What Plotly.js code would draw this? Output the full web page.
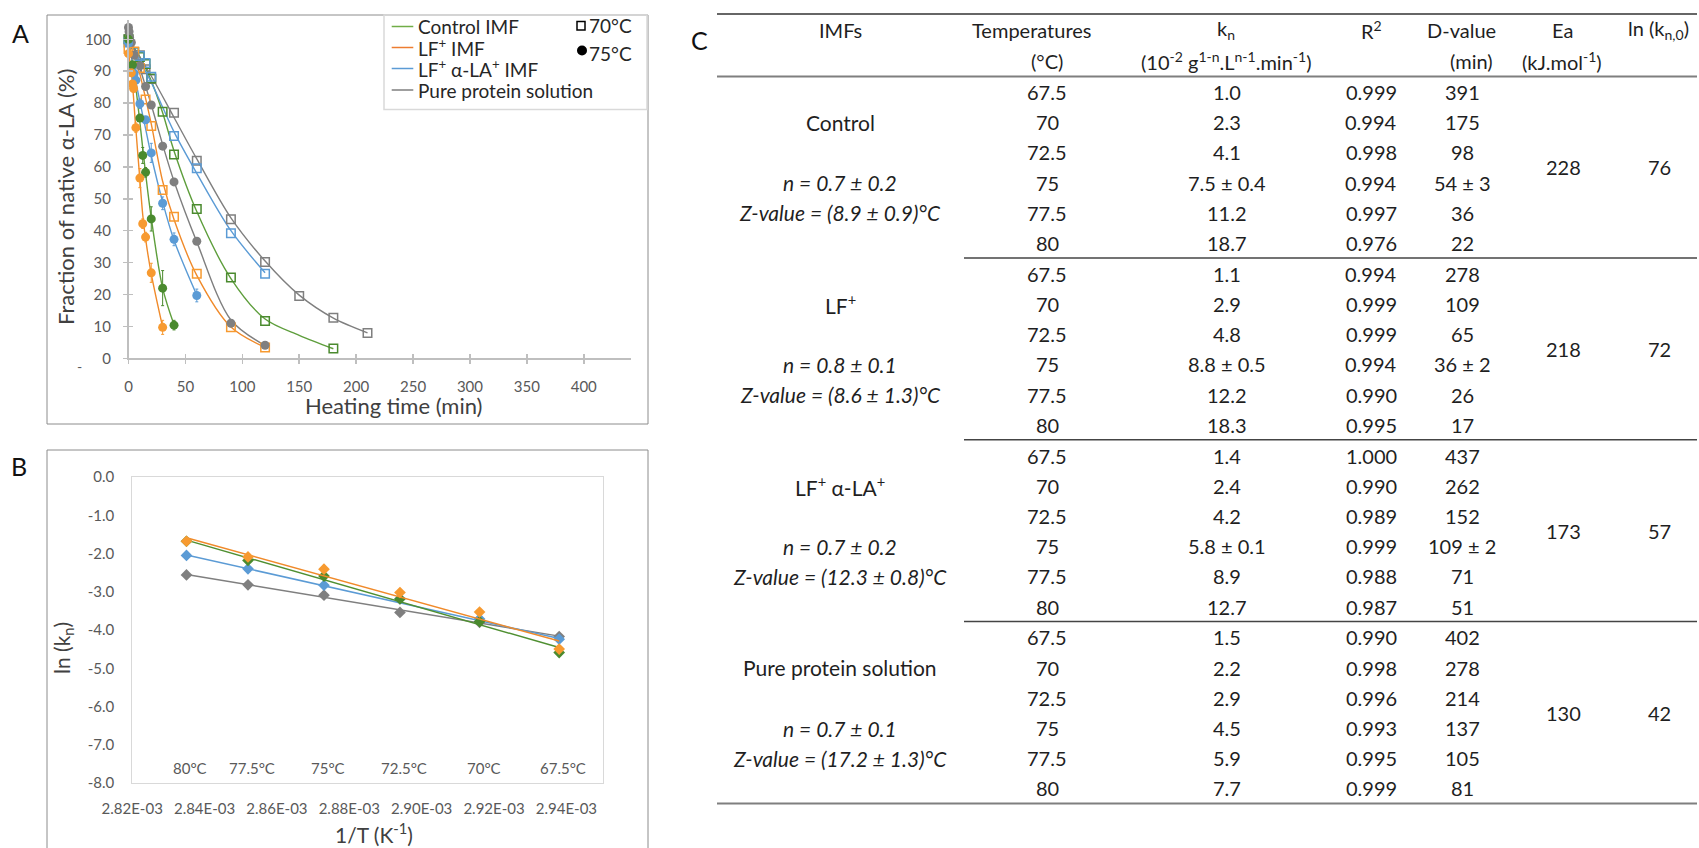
<!DOCTYPE html>
<html><head><meta charset="utf-8">
<script src="https://cdn.plot.ly/plotly-3.0.1.min.js"></script>
<style>html,body{margin:0;padding:0;background:#fff;}#chart{width:1699px;height:848px;}</style>
</head><body><div id="chart"></div>
<script>
// ---------- Panel A data (heating time in min, fraction of native α-LA in %) ----------
const green70T = [0,5,10,15,20,30,40,60,90,120,180];
const green70V = [100,96,94.5,92.3,87.7,77.3,63.9,46.8,25.3,11.7,3.1];
const orange70T = [0,5,10,15,20,30,40,60,90,120];
const orange70V = [97,96.2,91,81.1,72.8,52.8,44.4,26.5,9.7,3.4];
const blue70T = [0,5,10,15,20,40,60,90,120];
const blue70V = [99,96,94.8,92.6,88.3,69.7,59.6,39.2,26.5];
const gray70T = [0,10,15,20,40,60,90,120,150,180,210];
const gray70V = [100,95,90.6,87.6,77,61.9,43.6,30.2,19.5,12.7,7.9];

const green75T = [0,3.5,10,12.5,15,20,30,40];
const green75V = [100,92,75.3,63.6,58.3,43.7,22,10.4];
const green75E = [0,0,1,2.5,1.5,3.8,5.5,1.5];
const orange75T = [0,2.5,3.5,4.5,6.5,10,12.5,15,20,30];
const orange75V = [95.5,89.5,86,84.6,72.3,56.5,42.2,38,26.8,9.7];
const orange75E = [0,1,1,1,1.5,3,1.5,1.5,3,2.2];
const blue75T = [0,3.5,5,6.5,10,15,20,30,40,60];
const blue75V = [98.8,91.7,89.3,87.2,79.8,74.8,64.4,48.6,37.3,19.7];
const blue75E = [0,0,0,0,1.5,1,3,2,2,2];
const gray75T = [0,0.5,1,2.5,5,10,15,20,30,40,60,90,120];
const gray75V = [103.7,102.4,100.5,99,95,91.7,85.2,79.4,66.5,55.3,36.7,11,4.1];

// fitted curves
const green70FitT = [0,10,20,30,40,60,90,120,150,180];
const green70FitV = [100,94.5,87,77,65,46,25,12.3,7.2,3.0];
const orange70FitT = [0,10,15,20,30,40,60,90,120];
const orange70FitV = [100,89,81.5,73.5,55.5,43.5,26,9.8,3.4];
const blue70FitT = [0,20,40,60,90,120];
const blue70FitV = [100,86.5,71,58,40,26.8];
const gray70FitT = [0,20,40,60,90,120,150,180,210];
const gray70FitV = [100,88.5,75.5,62.5,44,30.5,19.8,12.6,8];
const green75FitT = [0,5,10,15,20,30,40];
const green75FitV = [100,89,74,58,44,22,10.5];
const orange75FitT = [0,3,6,10,12.5,15,20,30];
const orange75FitV = [96,88,74,56,45,37.5,26.5,9.8];
const blue75FitT = [0,5,10,15,20,30,40,60];
const blue75FitV = [100,89.5,80.5,72,63.5,49,37,19.8];
const gray75FitT = [0,10,20,30,40,60,90,120];
const gray75FitV = [103,91,79.5,67,55.5,36.5,12,4];

const legendNames = ['Control IMF','LF<sup>+</sup> IMF','LF<sup>+</sup> α-LA<sup>+</sup> IMF','Pure protein solution'];
const legendTemps = ['70°C','75°C'];
const xTicksA = [0,50,100,150,200,250,300,350,400];
const yTicksA = [0,10,20,30,40,50,60,70,80,90,100];

// ---------- Panel B data ----------
const invT = [2.835e-3,2.852e-3,2.873e-3,2.894e-3,2.916e-3,2.938e-3];
const tempLabels = ['80°C','77.5°C','75°C','72.5°C','70°C','67.5°C'];
const lnkControl = [-1.68,-2.18,-2.59,-3.19,-3.78,-4.59];
const lnkLF = [-1.68,-2.09,-2.41,-3.02,-3.53,-4.50];
const lnkLFLA = [-2.05,-2.40,-2.83,-3.18,-3.71,-4.24];
const lnkPure = [-2.56,-2.82,-3.09,-3.54,-3.80,-4.17];
const fitX = [2.835e-3,2.938e-3];
const fitControl = [-1.65,-4.46];
const fitLF = [-1.59,-4.29];
const fitLFLA = [-2.04,-4.22];
const fitPure = [-2.55,-4.16];
const xTickValsB = [2.82e-3,2.84e-3,2.86e-3,2.88e-3,2.90e-3,2.92e-3,2.94e-3];
const xTickTextB = ['2.82E-03','2.84E-03','2.86E-03','2.88E-03','2.90E-03','2.92E-03','2.94E-03'];
const yTickValsB = [0,-1,-2,-3,-4,-5,-6,-7,-8];
const yTickTextB = ['0.0','-1.0','-2.0','-3.0','-4.0','-5.0','-6.0','-7.0','-8.0'];

// ---------- Panel C table data ----------
const tableHead1 = ['IMFs','Temperatures','k<sub>n</sub>','R<sup>2</sup>','D-value','Ea','ln (k<sub>n,0</sub>)'];
const tableHead2 = ['','(°C)','(10<sup>-2</sup> g<sup>1-n</sup>.L<sup>n-1</sup>.min<sup>-1</sup>)','','(min)','(kJ.mol<sup>-1</sup>)',''];
const imfNames = ['Control','LF<sup>+</sup>','LF<sup>+</sup> α-LA<sup>+</sup>','Pure protein solution'];
const nTexts = ['n = 0.7 ± 0.2','n = 0.8 ± 0.1','n = 0.7 ± 0.2','n = 0.7 ± 0.1'];
const zTexts = ['Z-value = (8.9 ± 0.9)°C','Z-value = (8.6 ± 1.3)°C','Z-value = (12.3 ± 0.8)°C','Z-value = (17.2 ± 1.3)°C'];
const temps = ['67.5','70','72.5','75','77.5','80'];
const knVals = [
  ['1.0','2.3','4.1','7.5 ± 0.4','11.2','18.7'],
  ['1.1','2.9','4.8','8.8 ± 0.5','12.2','18.3'],
  ['1.4','2.4','4.2','5.8 ± 0.1','8.9','12.7'],
  ['1.5','2.2','2.9','4.5','5.9','7.7']];
const r2Vals = [
  ['0.999','0.994','0.998','0.994','0.997','0.976'],
  ['0.994','0.999','0.999','0.994','0.990','0.995'],
  ['1.000','0.990','0.989','0.999','0.988','0.987'],
  ['0.990','0.998','0.996','0.993','0.995','0.999']];
const dVals = [
  ['391','175','98','54 ± 3','36','22'],
  ['278','109','65','36 ± 2','26','17'],
  ['437','262','152','109 ± 2','71','51'],
  ['402','278','214','137','105','81']];
const eaVals = ['228','218','173','130'];
const lnk0Vals = ['76','72','57','42'];

// ---------- build ----------
const W = 1699, H = 848;
const px = x => x / W, py = y => 1 - y / H;
const FONT = 'Lato, "Open Sans", sans-serif';
const cGreenL = '#5e9e3c', cGreenM = '#4a8a2e';
const cOrangeL = '#f08a2a', cOrangeM = '#f79a30';
const cBlue = '#5b9bd5', cGray = '#7f7f7f';

const traces = [];
function fit(t, v, c) {
  traces.push({x: t, y: v, mode: 'lines', line: {color: c, width: 1.4, shape: 'spline', smoothing: 0.9},
    xaxis: 'x', yaxis: 'y', hoverinfo: 'skip', showlegend: false});
}
function pts(t, v, c, sym, err) {
  const tr = {x: t, y: v, mode: 'markers', cliponaxis: false,
    marker: sym === 'o' ? {symbol: 'circle', size: 9, color: c} : {symbol: 'square-open', size: 8.5, color: c, line: {color: c, width: 1.5}},
    xaxis: 'x', yaxis: 'y', showlegend: false};
  if (err) tr.error_y = {type: 'data', array: err, visible: true, color: c, thickness: 1, width: 1.5};
  traces.push(tr);
}
fit(green70FitT, green70FitV, cGreenL); fit(orange70FitT, orange70FitV, cOrangeL);
fit(blue70FitT, blue70FitV, cBlue); fit(gray70FitT, gray70FitV, cGray);
fit(green75FitT, green75FitV, cGreenL); fit(orange75FitT, orange75FitV, cOrangeL);
fit(blue75FitT, blue75FitV, cBlue); fit(gray75FitT, gray75FitV, cGray);
pts(gray70T, gray70V, cGray, 's'); pts(green70T, green70V, cGreenM, 's');
pts(blue70T, blue70V, cBlue, 's'); pts(orange70T, orange70V, cOrangeM, 's');
pts(gray75T, gray75V, cGray, 'o'); pts(blue75T, blue75V, cBlue, 'o', blue75E);
pts(green75T, green75V, cGreenM, 'o', green75E); pts(orange75T, orange75V, cOrangeM, 'o', orange75E);
// overlay axes for crossing ticks
traces.push({x: [], y: [], xaxis: 'x3', yaxis: 'y', showlegend: false});
traces.push({x: [], y: [], xaxis: 'x', yaxis: 'y3', showlegend: false});

// panel B
const bSeries = [[lnkPure, fitPure, '#7f7f7f', '#7f7f7f'], [lnkLFLA, fitLFLA, '#5b9bd5', '#5b9bd5'],
                 [lnkControl, fitControl, '#4a8a2e', '#4f8f31'], [lnkLF, fitLF, '#f79a30', '#f08a2a']];
bSeries.forEach(([v, f, c, lc]) => {
  traces.push({x: fitX, y: f, mode: 'lines', line: {color: lc, width: 1.5}, xaxis: 'x2', yaxis: 'y2', showlegend: false});
  traces.push({x: invT, y: v, mode: 'markers', marker: {symbol: 'diamond', size: 9, color: c}, cliponaxis: false, xaxis: 'x2', yaxis: 'y2', showlegend: false});
});

const layout = {
  width: W, height: H, margin: {l: 0, r: 0, t: 0, b: 0}, paper_bgcolor: '#fff', plot_bgcolor: 'rgba(0,0,0,0)',
  font: {family: FONT, color: '#595959', size: 15}, showlegend: false,
  xaxis: {domain: [px(128.5), px(631)], range: [0, 441.5], anchor: 'y', tickvals: xTicksA, ticks: 'outside', ticklen: 4,
    tickcolor: '#bfbfbf', tickwidth: 1.5, showline: true, linecolor: '#bfbfbf', linewidth: 1.5, showgrid: false, zeroline: false,
    tickfont: {size: 15, color: '#595959'}, ticklabelstandoff: 10},
  yaxis: {domain: [py(358.3), py(20.2)], range: [0, 106], anchor: 'x', tickvals: yTicksA, ticks: 'outside', ticklen: 4,
    tickcolor: '#bfbfbf', tickwidth: 1.5, showline: true, linecolor: '#bfbfbf', linewidth: 1.5, showgrid: false, zeroline: false,
    tickfont: {size: 15, color: '#595959'}, ticklabelstandoff: 9},
  xaxis3: {overlaying: 'x', anchor: 'y', range: [0, 441.5], tickvals: xTicksA, ticks: 'inside', ticklen: 4, tickcolor: '#bfbfbf', tickwidth: 1.5,
    showticklabels: false, showline: false, showgrid: false, zeroline: false},
  yaxis3: {overlaying: 'y', anchor: 'x', range: [0, 106], tickvals: yTicksA, ticks: 'inside', ticklen: 4, tickcolor: '#bfbfbf', tickwidth: 1.5,
    showticklabels: false, showline: false, showgrid: false, zeroline: false},
  xaxis2: {domain: [px(132.2), px(602.6)], range: [2.82e-3, 2.95e-3], anchor: 'y2', tickvals: xTickValsB, ticktext: xTickTextB,
    ticks: '', showline: true, mirror: true, linecolor: '#d9d9d9', linewidth: 1, showgrid: false, zeroline: false,
    tickfont: {size: 15, color: '#595959'}, ticklabelstandoff: 12},
  yaxis2: {domain: [py(783), py(477)], range: [-8, 0], anchor: 'x2', tickvals: yTickValsB, ticktext: yTickTextB,
    ticks: '', showline: true, mirror: true, linecolor: '#d9d9d9', linewidth: 1, showgrid: false, zeroline: false,
    tickfont: {size: 15, color: '#595959'}, ticklabelstandoff: 14},
  shapes: [], annotations: []
};
const S = layout.shapes, A = layout.annotations;
function rect(x0, y0, x1, y1, c, w) { S.push({type: 'rect', xref: 'paper', yref: 'paper', x0: px(x0), x1: px(x1), y0: py(y0), y1: py(y1), line: {color: c, width: w}, layer: 'below'}); }
function hline(x0, x1, y, c, w) { S.push({type: 'line', xref: 'paper', yref: 'paper', x0: px(x0), x1: px(x1), y0: py(y), y1: py(y), line: {color: c, width: w}}); }
function txt(x, y, t, o) {
  o = o || {};
  A.push({xref: 'paper', yref: 'paper', x: px(x), y: py(y), text: t, showarrow: false, xanchor: o.xa || 'center', yanchor: 'middle',
    textangle: o.ang || 0, font: {family: FONT, size: o.size || 20, color: o.color || '#1f1f1f'}});
}

// Panel frames
rect(47, 15, 648, 424, '#8c8c8c', 1);
rect(47, 450, 648, 870, '#8c8c8c', 1);
// panel labels
txt(20, 33, 'A', {size: 25, color: '#111'});
txt(19, 466, 'B', {size: 25, color: '#111'});
txt(699, 40, 'C', {size: 25, color: '#111'});
// stray dash
txt(79, 366, '-', {size: 14, color: '#595959'});
// Axis titles
txt(394, 405, 'Heating time (min)', {size: 22, color: '#404040'});
txt(66, 197, 'Fraction of native α-LA (%)', {size: 22, color: '#404040', ang: -90});
txt(374, 833, '1/T (K<sup>-1</sup>)', {size: 21, color: '#404040'});
txt(63, 648, 'ln (k<sub>n</sub>)', {size: 21, color: '#404040', ang: -90});

// Legend A
rect(384, 15, 647, 109.5, '#d9d9d9', 1.5);
const legColors = ['#70ad47', '#ed7d31', '#5b9bd5', '#7f7f7f'];
const legY = [26.5, 47.5, 68.5, 90];
legendNames.forEach((n, i) => {
  hline(391.7, 413.3, legY[i], legColors[i], 1.5);
  txt(415.5, legY[i], n, {xa: 'left', size: 19, color: '#262626'});
});
S.push({type: 'rect', xref: 'paper', yref: 'paper', x0: px(577), x1: px(585), y0: py(30), y1: py(21.5), line: {color: '#000', width: 1.5}});
S.push({type: 'circle', xref: 'paper', yref: 'paper', x0: px(577), x1: px(587), y0: py(55.5), y1: py(45.5), fillcolor: '#000', line: {color: '#000', width: 0}});
txt(586.5, 25.5, legendTemps[0], {xa: 'left', size: 19, color: '#262626'});
txt(586.5, 54, legendTemps[1], {xa: 'left', size: 19, color: '#262626'});

// Panel B temperature labels
invT.forEach((x, i) => {
  A.push({xref: 'x2', yref: 'y2', x: x, y: -7.62, xshift: 4, text: tempLabels[i], showarrow: false, xanchor: 'center', yanchor: 'middle',
    font: {family: FONT, size: 15, color: '#595959'}});
});

// Panel C table
const colX = [840, 1047, 1227, 1371, 1462, 1563, 1659];
const headX = [840, 1032, 1226, 1371, 1461, 1562, 1658];
const head2X = [840, 1047, 1226, 1371, 1471, 1562, 1658];
hline(717, 1697, 14, '#333', 1.5);
tableHead1.forEach((t, i) => txt(headX[i], 30, t));
tableHead2.forEach((t, i) => { if (t) txt(head2X[i], 61, t); });
hline(717, 1697, 76.5, '#7f7f7f', 2);
const y0 = 92, G = 181.8, R = 30.2;
for (let g = 0; g < 4; g++) {
  const gy = y0 + g * G;
  txt(colX[0], gy + R, imfNames[g], {size: 21});
  txt(colX[0], gy + 3 * R, '<i>' + nTexts[g] + '</i>', {size: 21});
  txt(colX[0], gy + 4 * R, '<i>' + zTexts[g] + '</i>', {size: 21});
  for (let r = 0; r < 6; r++) {
    const y = gy + r * R;
    txt(colX[1], y, temps[r]);
    txt(colX[2], y, knVals[g][r]);
    txt(colX[3], y, r2Vals[g][r]);
    txt(colX[4], y, dVals[g][r]);
  }
  txt(colX[5], gy + 2.5 * R, eaVals[g]);
  txt(colX[6], gy + 2.5 * R, lnk0Vals[g]);
  const ry = gy + 5 * R + 15;
  if (g < 3) hline(964, 1697, ry, '#444', 1.5);
  else hline(717, 1697, ry, '#7f7f7f', 2);
}

Plotly.newPlot('chart', traces, layout, {staticPlot: true});
</script></body></html>
